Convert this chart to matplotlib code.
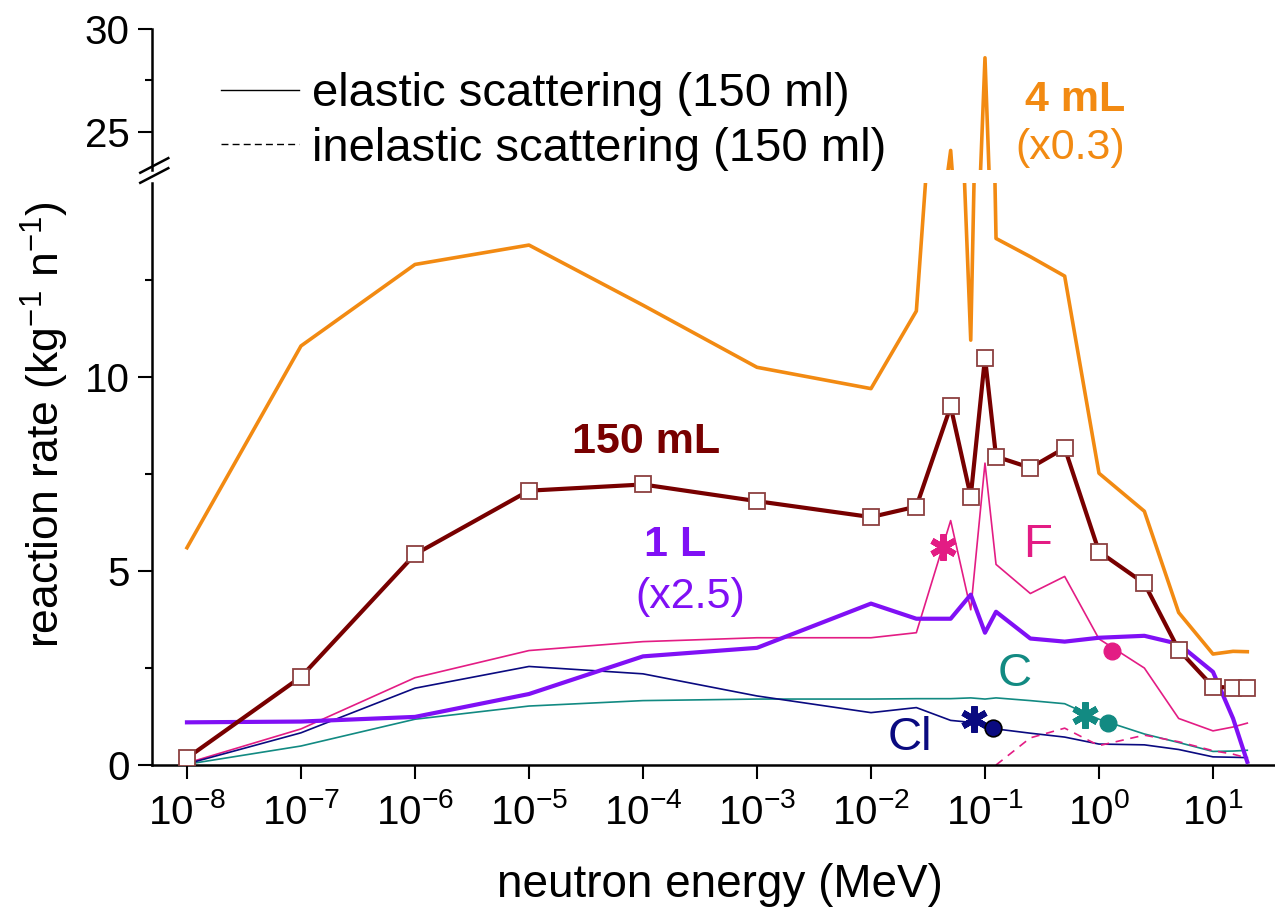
import matplotlib
matplotlib.use("Agg")
import matplotlib.pyplot as plt
from matplotlib.lines import Line2D
from matplotlib.ticker import FixedLocator, NullLocator

plt.rcParams["font.family"] = ["Liberation Sans", "DejaVu Sans"]
plt.rcParams["mathtext.fontset"] = "custom"
plt.rcParams["mathtext.rm"] = "Liberation Sans"
plt.rcParams["mathtext.it"] = "Liberation Sans:italic"
plt.rcParams["mathtext.default"] = "regular"

# neutron energy grid (MeV)
energy = [1e-8, 1e-7, 1e-6, 1e-5, 1e-4, 1e-3, 1e-2, 0.025, 0.05, 0.075,
          0.1, 0.125, 0.25, 0.5, 1.0, 2.5, 5.0, 10.0, 15.0, 20.0]

# total reaction rates per phantom volume
rate_4ml = [5.6, 10.8, 12.9, 13.4, 11.85, 10.25, 9.7, 11.7, 24.1, 10.95,
            28.6, 13.57, 13.1, 12.6, 7.52, 6.54, 3.93, 2.86, 2.93, 2.92]
rate_150ml = [0.18, 2.27, 5.43, 7.07, 7.23, 6.8, 6.39, 6.66, 9.24, 6.92,
              10.5, 7.95, 7.66, 8.17, 5.5, 4.68, 2.97, 2.02, 1.99, 1.99]
rate_1l = [1.1, 1.12, 1.24, 1.83, 2.8, 3.02, 4.16, 3.77, 3.77, 4.39,
           3.41, 3.95, 3.26, 3.18, 3.28, 3.33, 3.12, 2.4, 1.2, 0.08]

# elastic scattering per element (150 ml)
elastic_f = [0.05, 0.93, 2.25, 2.95, 3.18, 3.28, 3.28, 3.41, 6.3, 4.0,
             7.78, 5.17, 4.42, 4.86, 3.25, 2.5, 1.2, 0.88, 0.98, 1.08]
elastic_c = [0.02, 0.49, 1.18, 1.52, 1.66, 1.7, 1.7, 1.71, 1.71, 1.73,
             1.7, 1.73, 1.66, 1.58, 1.18, 0.8, 0.58, 0.35, 0.36, 0.38]
elastic_cl = [0.03, 0.83, 1.98, 2.54, 2.35, 1.78, 1.35, 1.48, 1.15, 1.1,
              1.0, 0.93, 0.82, 0.72, 0.54, 0.52, 0.4, 0.21, 0.2, 0.19]

# inelastic scattering on F (150 ml), from 0.125 MeV up
inel_energy = [0.125, 0.25, 0.5, 1.0, 2.5, 5.0, 10.0, 15.0, 20.0]
inel_f = [0.0, 0.7, 0.95, 0.5, 0.77, 0.6, 0.37, 0.28, 0.18]

# reaction thresholds / markers (energy, rate)
star_f = (0.043, 5.63)
dot_f = (1.3, 2.95)
star_c = (0.75, 1.3)
dot_c = (1.2, 1.08)
star_cl = (0.08, 1.19)
dot_cl = (0.117, 0.96)

decades = [1e-8, 1e-7, 1e-6, 1e-5, 1e-4, 1e-3, 1e-2, 1e-1, 1e0, 1e1]
decade_labels = ["$10^{-8}$", "$10^{-7}$", "$10^{-6}$", "$10^{-5}$", "$10^{-4}$",
                 "$10^{-3}$", "$10^{-2}$", "$10^{-1}$", "$10^{0}$", "$10^{1}$"]

ORANGE = "#f28a12"
BROWN = "#780000"
SQUARE = "#8c4040"
PURPLE = "#8010f5"
PINK = "#e31c84"
TEAL = "#128a82"
NAVY = "#0a0a80"

fig = plt.figure(figsize=(12.75, 9.14), dpi=100)
ax = fig.add_axes([0.1192, 0.1630, 0.8808, 0.6368])
ax_top = fig.add_axes([0.1192, 0.8140, 0.8808, 0.1543], sharex=ax)

for a in (ax, ax_top):
    a.plot(energy, rate_4ml, color=ORANGE, lw=2.6, zorder=3)
    a.plot(energy, rate_150ml, color=BROWN, lw=3.0, marker="s", ms=12,
           mfc="white", mec=SQUARE, mew=1.3, zorder=4)
    a.plot(energy, rate_1l, color=PURPLE, lw=3.0, zorder=3)
    a.plot(energy, elastic_f, color=PINK, lw=1.2, zorder=2)
    a.plot(energy, elastic_c, color=TEAL, lw=1.2, zorder=2)
    a.plot(energy, elastic_cl, color=NAVY, lw=1.2, zorder=2)
    a.plot(inel_energy, inel_f, color=PINK, lw=1.2, ls=(0, (5, 4)), zorder=2)
    a.set_xscale("log")
    a.set_xlim(10 ** -8.307, 10 ** 1.544)
    for side in ("top", "right"):
        a.spines[side].set_visible(False)
    a.spines["left"].set_linewidth(1.8)
    a.spines["bottom"].set_linewidth(1.8)
    a.tick_params(which="major", direction="out", length=10, width=1.5,
                  labelsize=29, pad=6)
    a.tick_params(which="minor", direction="out", length=5, width=1.5)

# threshold markers
for (x, y), c in ((star_f, PINK), (star_c, TEAL), (star_cl, NAVY)):
    ax.plot(x, y, marker=(6, 2, 0), ms=19, mec=c, mew=4.5, ls="none", zorder=5)
ax.plot(*dot_f, marker="o", ms=12, color=PINK, ls="none", zorder=5)
ax.plot(*dot_c, marker="o", ms=12, color=TEAL, ls="none", zorder=5)
ax.plot(*dot_cl, marker="o", ms=12, color=NAVY, mec="black", mew=1.2,
        ls="none", zorder=5)

ax.set_ylim(0, 15)
ax.yaxis.set_major_locator(FixedLocator([0, 5, 10]))
ax.yaxis.set_minor_locator(FixedLocator([2.5, 7.5, 12.5]))
ax.xaxis.set_major_locator(FixedLocator(decades))
ax.xaxis.set_minor_locator(NullLocator())
ax.set_xticklabels(decade_labels)
ax.tick_params(axis="x", pad=10)

ax_top.set_ylim(23.15, 30)
ax_top.yaxis.set_major_locator(FixedLocator([25, 30]))
ax_top.yaxis.set_minor_locator(FixedLocator([27.5]))
ax_top.spines["bottom"].set_visible(False)
ax_top.tick_params(axis="x", which="both", bottom=False, labelbottom=False)
ax_top.patch.set_alpha(0)

# axis break marks
for y0 in (0.800, 0.811):
    fig.add_artist(Line2D([0.110, 0.132], [y0, y0 + 0.016], color="black", lw=1.8))

# labels on the curves
ax_top.text(0.615, 26.55, "4 mL", color=ORANGE, fontsize=31, fontweight="bold",
            ha="center", va="center")
ax_top.text(0.557, 24.2, "(x0.3)", color=ORANGE, fontsize=31,
            ha="center", va="center")
ax.text(1.07e-4, 8.32, "150 mL", color=BROWN, fontsize=31, fontweight="bold",
        ha="center", va="center")
ax.text(1.9e-4, 5.68, "1 L", color=PURPLE, fontsize=31, fontweight="bold",
        ha="center", va="center")
ax.text(2.6e-4, 4.34, "(x2.5)", color=PURPLE, fontsize=31,
        ha="center", va="center")
ax.text(0.29, 5.68, "F", color=PINK, fontsize=34, ha="center", va="center")
ax.text(0.183, 2.35, "C", color=TEAL, fontsize=34, ha="center", va="center")
ax.text(0.0219, 0.7, "Cl", color=NAVY, fontsize=34, ha="center", va="center")

# legend for line styles
handles = [Line2D([], [], color="black", lw=1.0),
           Line2D([], [], color="black", lw=1.0, ls=(0, (5, 3)))]
fig.legend(handles, ["elastic scattering (150 ml)", "inelastic scattering (150 ml)"],
           loc="upper left", bbox_to_anchor=(0.173, 0.921),
           frameon=False, fontsize=34, borderpad=0, borderaxespad=0,
           handlelength=1.66, handletextpad=0.28, labelspacing=0.22)

fig.text(0.035, 0.535, "reaction rate (kg$^{-1}$ n$^{-1}$)", rotation=90,
         fontsize=32, ha="center", va="center")
fig.text(0.565, 0.032, "neutron energy (MeV)", fontsize=33,
         ha="center", va="center")

fig.savefig("out.png", dpi=100)
